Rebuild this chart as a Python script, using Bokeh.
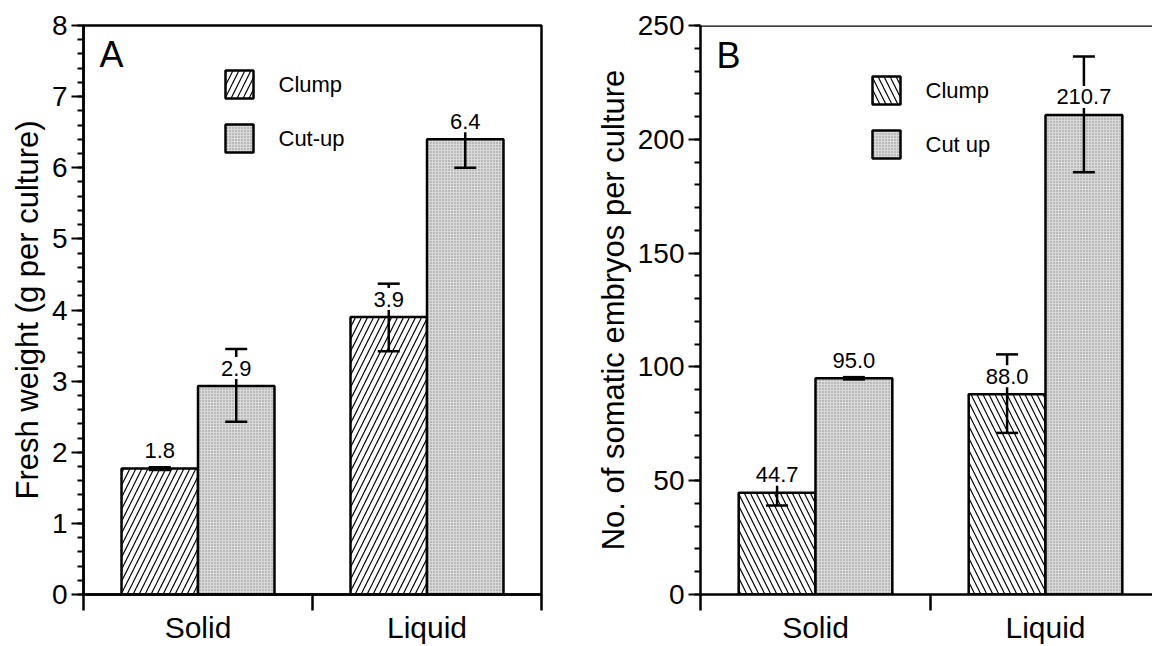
from bokeh.plotting import figure
from bokeh.models import (Range1d, FixedTicker, SingleIntervalTicker, Span)
from bokeh.layouts import row
from bokeh.embed import file_html
from bokeh.resources import INLINE
from bokeh.core.properties import value

# ---------------- data ----------------
categories = ["Solid", "Liquid"]

a_series = ["Clump", "Cut-up"]
a_clump = [1.77, 3.9]
a_cutup = [2.93, 6.4]
a_clump_err_lo = [0.02, 0.48]
a_clump_err_hi = [0.02, 0.47]
a_cutup_err_lo = [0.5, 0.4]
a_cutup_err_hi = [0.52, 0.3]

b_series = ["Clump", "Cut up"]
b_clump = [44.7, 88.0]
b_cutup = [95.0, 210.7]
b_clump_err_lo = [5.6, 17.0]
b_clump_err_hi = [4.0, 17.5]
b_cutup_err_lo = [0.5, 25.2]
b_cutup_err_hi = [0.5, 25.7]

FONT = "Liberation Sans"
H = 646
TOP = 25
BOTTOM = 594
FRAME_H = BOTTOM - TOP
VAL_FS = 22


def make_panel(letter, ylabel, ymax, ystep, clump, cutup, clo, chi, ulo, uhi,
               names, clump_hatch, width, left, right, xmax, page_left,
               legend_px, letter_px, outline):
    frame_w = width - left - right
    ppx = frame_w / xmax
    ppy = FRAME_H / ymax

    def dx(sx):
        return (sx - page_left - left) / ppx

    def dy(sy):
        return (BOTTOM - sy) / ppy

    p = figure(width=width, height=H, output_backend="svg", toolbar_location=None,
               x_range=Range1d(0, xmax), y_range=Range1d(0, ymax),
               min_border_left=left, min_border_right=right,
               min_border_top=TOP, min_border_bottom=H - BOTTOM)
    p.background_fill_color = "white"
    p.border_fill_color = "white"
    p.xgrid.visible = False
    p.ygrid.visible = False
    if outline:
        p.outline_line_color = "black"
        p.outline_line_width = 2.5
    else:
        p.outline_line_color = None
        p.add_layout(Span(location=ymax, dimension="width", line_color="black",
                          line_width=2.5))

    # y axis
    ya = p.yaxis[0]
    ya.ticker = SingleIntervalTicker(interval=ystep, num_minor_ticks=5)
    ya.axis_label = ylabel
    ya.axis_label_text_font = FONT
    ya.axis_label_text_font_size = "31px"
    ya.axis_label_text_font_style = "normal"
    ya.axis_label_text_color = "black"
    ya.axis_label_standoff = 4
    ya.major_label_text_font = FONT
    ya.major_label_text_font_size = "28px"
    ya.major_label_text_color = "black"
    ya.major_label_standoff = 4
    ya.axis_line_width = 2.5
    ya.axis_line_color = "black"
    ya.major_tick_out = 12
    ya.major_tick_in = 0
    ya.minor_tick_out = 6
    ya.minor_tick_in = 0
    ya.major_tick_line_width = 2
    ya.minor_tick_line_width = 2
    ya.major_tick_line_color = "black"
    ya.minor_tick_line_color = "black"

    centers = [i + 0.5 for i in range(len(categories))]

    # x axis: category names at group centres, separator ticks at 0, 1, 2
    xa = p.xaxis[0]
    xa.ticker = FixedTicker(ticks=centers, minor_ticks=[0, 1, 2])
    xa.major_label_overrides = {c: n for c, n in zip(centers, categories)}
    xa.major_label_text_font = FONT
    xa.major_label_text_font_size = "30px"
    xa.major_label_text_color = "black"
    xa.major_label_standoff = 0
    xa.axis_line_width = 2.5
    xa.axis_line_color = "black"
    xa.major_tick_out = 0
    xa.major_tick_in = 0
    xa.major_tick_line_color = None
    xa.minor_tick_out = 16
    xa.minor_tick_in = 0
    xa.minor_tick_line_width = 2.5
    xa.minor_tick_line_color = "black"

    bw = 0.334

    clump_style = dict(fill_color="white", line_color="black", line_width=2.5,
                       hatch_pattern=clump_hatch, hatch_color="black",
                       hatch_weight=1.2, hatch_scale=12)
    cut_style = dict(fill_color="#d9d9d9", line_color="black", line_width=2.5,
                     hatch_pattern=".", hatch_color="#8c8c8c",
                     hatch_weight=0.8, hatch_scale=3)

    groups = [
        ([c - bw / 2 for c in centers], clump, clo, chi, clump_style),
        ([c + bw / 2 for c in centers], cutup, ulo, uhi, cut_style),
    ]

    # bars
    for xs, vals, lo, hi, style in groups:
        p.vbar(x=xs, top=vals, width=bw, **style)

    # error bars
    for xs, vals, lo, hi, style in groups:
        lower = [v - e for v, e in zip(vals, lo)]
        upper = [v + e for v, e in zip(vals, hi)]
        p.segment(x0=xs, y0=lower, x1=xs, y1=upper, line_color="black", line_width=2.5)
        p.scatter(x=xs + xs, y=lower + upper, marker="dash", size=22,
                  line_color="black", line_width=2.5)

    # value labels with white background
    off = 18 / ppy
    for xs, vals, lo, hi, style in groups:
        labels = [f"{v:.1f}" for v in vals]
        widths = [sum(0.278 if ch == "." else 0.556 for ch in s) * VAL_FS + 4
                  for s in labels]
        ys = [v + off for v in vals]
        p.rect(x=xs, y=ys, width=widths, height=[22] * len(xs), width_units="screen",
               height_units="screen", fill_color="white", line_color=None)
        p.text(x=xs, y=ys, text=labels, text_font=value(FONT),
               text_font_size=f"{VAL_FS}px", text_align="center",
               text_baseline="middle", text_color="black")

    # legend swatches
    lx, ly1, ly2, tx = legend_px
    p.rect(x=[dx(lx)], y=[dy(ly1)], width=28, height=28, width_units="screen",
           height_units="screen", **clump_style)
    p.rect(x=[dx(lx)], y=[dy(ly2)], width=28, height=28, width_units="screen",
           height_units="screen", **cut_style)
    p.text(x=[dx(tx), dx(tx)], y=[dy(ly1), dy(ly2)], text=names,
           text_font=value(FONT), text_font_size="22px", text_baseline="middle",
           text_align="left", text_color="black")

    # panel letter
    p.text(x=[dx(letter_px[0])], y=[dy(letter_px[1])], text=[letter],
           text_font=value(FONT), text_font_size="36px", text_baseline="middle",
           text_align="left", text_color="black")
    return p


pa = make_panel("A", "Fresh weight (g per culture)", 8, 1, a_clump, a_cutup,
                a_clump_err_lo, a_clump_err_hi, a_cutup_err_lo, a_cutup_err_hi,
                a_series, "/", width=590, left=83, right=49, xmax=2.0, page_left=0,
                legend_px=(239, 84, 138, 278), letter_px=(99, 54), outline=True)

pb = make_panel("B", "No. of somatic embryos per culture", 250, 50, b_clump, b_cutup,
                b_clump_err_lo, b_clump_err_hi, b_cutup_err_lo, b_cutup_err_hi,
                b_series, "\\", width=562, left=110, right=0, xmax=452 / 230,
                page_left=590, legend_px=(886, 90, 144, 925), letter_px=(716, 55),
                outline=False)

layout = row(pa, pb)
open("out.html", "w").write(file_html(layout, INLINE))
